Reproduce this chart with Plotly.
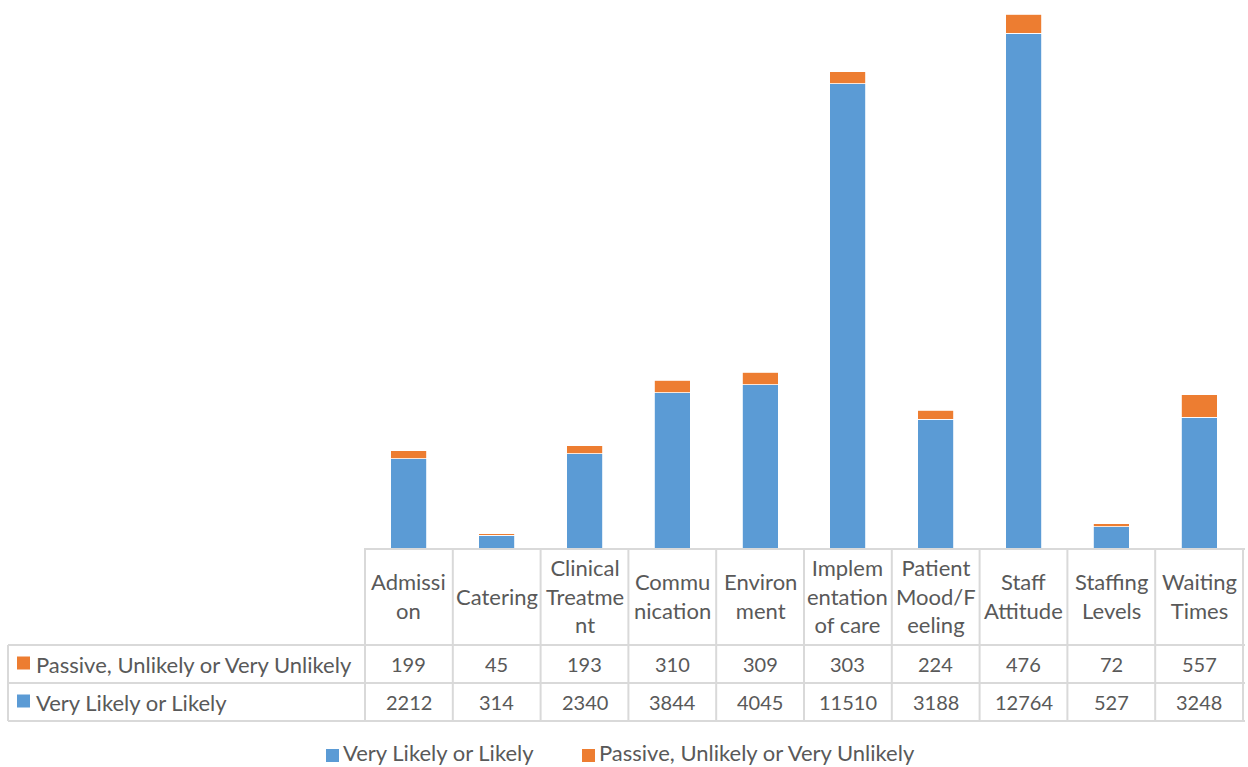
import plotly.graph_objects as go

categories = ["Admission", "Catering", "Clinical Treatment", "Communication", "Environment",
              "Implementation of care", "Patient Mood/Feeling", "Staff Attitude",
              "Staffing Levels", "Waiting Times"]
category_labels = ["Admissi<br>on", "Catering", "Clinical<br>Treatme<br>nt", "Commu<br>nication",
                   "Environ<br>ment", "Implem<br>entation<br>of care", "Patient<br>Mood/F<br>eeling",
                   "Staff<br>Attitude", "Staffing<br>Levels", "Waiting<br>Times"]
likely = [2212, 314, 2340, 3844, 4045, 11510, 3188, 12764, 527, 3248]
unlikely = [199, 45, 193, 310, 309, 303, 224, 476, 72, 557]
name_likely = "Very Likely or Likely"
name_unlikely = "Passive, Unlikely or Very Unlikely"

W, H = 1248, 767
BLUE, ORANGE = "#5B9BD5", "#ED7D31"
GRID = "#D9D9D9"
TXT = "#595959"
FONT = "Lato"
TEXT_SIZE = 22
NUM_SIZE = 20


def xp(px):
    return px / W


def yp(py):
    return 1 - py / H


fig = go.Figure()
fig.add_trace(go.Bar(x=categories, y=likely, name=name_likely, marker_color=BLUE,
                     marker_line=dict(color="white", width=0.8), showlegend=False))
fig.add_trace(go.Bar(x=categories, y=unlikely, name=name_unlikely, marker_color=ORANGE,
                     marker_line=dict(color="white", width=0.8), showlegend=False))

totals = [a + b for a, b in zip(likely, unlikely)]
ymax = max(totals) * 548 / 534

shapes = []
# vertical grid lines of data table
for i in range(len(categories) + 1):
    shapes.append(dict(type="line", xref="x", yref="paper", x0=i - 0.5, x1=i - 0.5,
                       y0=yp(549), y1=yp(721), line=dict(color=GRID, width=2)))
shapes.append(dict(type="line", xref="paper", yref="paper", x0=xp(8), x1=xp(8),
                   y0=yp(645), y1=yp(721), line=dict(color=GRID, width=2)))
# horizontal lines
shapes.append(dict(type="line", xref="paper", yref="paper", x0=xp(364), x1=xp(1245),
                   y0=yp(549), y1=yp(549), line=dict(color=GRID, width=2)))
for py in (645, 683, 721):
    shapes.append(dict(type="line", xref="paper", yref="paper", x0=xp(8), x1=xp(1245),
                       y0=yp(py), y1=yp(py), line=dict(color=GRID, width=2)))
# legend keys in table
for py, col in ((663, ORANGE), (701, BLUE)):
    shapes.append(dict(type="rect", xref="paper", yref="paper", x0=xp(17), x1=xp(30),
                       y0=yp(py + 6.5), y1=yp(py - 6.5), fillcolor=col, line=dict(width=0)))
# bottom legend keys
for px, col in ((326, BLUE), (582, ORANGE)):
    shapes.append(dict(type="rect", xref="paper", yref="paper", x0=xp(px), x1=xp(px + 13),
                       y0=yp(762), y1=yp(749), fillcolor=col, line=dict(width=0)))

annotations = []
for cat, lab in zip(categories, category_labels):
    annotations.append(dict(x=cat, xref="x", y=yp(596), yref="paper", text=lab,
                            showarrow=False, xanchor="center", yanchor="middle",
                            font=dict(family=FONT, size=TEXT_SIZE, color=TXT)))
for cat, u, l in zip(categories, unlikely, likely):
    annotations.append(dict(x=cat, xref="x", y=yp(664), yref="paper", text=str(u),
                            showarrow=False, xanchor="center", yanchor="middle",
                            font=dict(family=FONT, size=NUM_SIZE, color=TXT)))
    annotations.append(dict(x=cat, xref="x", y=yp(702), yref="paper", text=str(l),
                            showarrow=False, xanchor="center", yanchor="middle",
                            font=dict(family=FONT, size=NUM_SIZE, color=TXT)))
for py, name in ((664, name_unlikely), (702, name_likely)):
    annotations.append(dict(x=xp(34), xref="paper", y=yp(py), yref="paper", text=name,
                            showarrow=False, xanchor="left", yanchor="middle",
                            font=dict(family=FONT, size=TEXT_SIZE, color=TXT)))
for px, name in ((341, name_likely), (597, name_unlikely)):
    annotations.append(dict(x=xp(px), xref="paper", y=yp(752.5), yref="paper", text=name,
                            showarrow=False, xanchor="left", yanchor="middle",
                            font=dict(family=FONT, size=TEXT_SIZE, color=TXT)))

fig.update_layout(
    width=W, height=H,
    margin=dict(l=0, r=0, t=0, b=0, autoexpand=False),
    paper_bgcolor="white", plot_bgcolor="white",
    barmode="stack", bargap=0.59,
    xaxis=dict(domain=[xp(364), xp(1244)], showticklabels=False, showgrid=False,
               zeroline=False, showline=False, ticks=""),
    yaxis=dict(domain=[yp(548), 1], range=[0, ymax], showticklabels=False, showgrid=False,
               zeroline=False, showline=False, ticks=""),
    shapes=shapes,
    annotations=annotations,
    showlegend=False,
    font=dict(family=FONT, color=TXT),
)

fig.write_html("out.html")
